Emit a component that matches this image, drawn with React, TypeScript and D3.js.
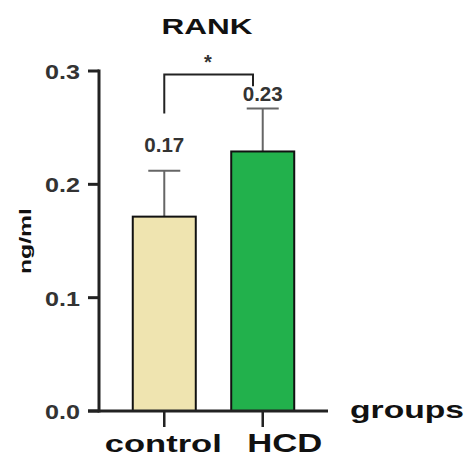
import React from "react";
import * as d3 from "d3";

const categories = ["control", "HCD"];
const means = [0.1715, 0.229];
const sds = [0.0405, 0.038];
const valueLabels = ["0.17", "0.23"];
const colors = ["#EFE4B0", "#22B14C"];
const yTicks = [0.0, 0.1, 0.2, 0.3];

export default function App() {
  const W = 467, H = 457;
  const y = d3.scaleLinear().domain([0, 0.3]).range([411, 71]);
  const x = d3.scaleBand<string>().domain(categories).range([99, 328]).paddingInner(0.36).paddingOuter(0.343);
  const bw = x.bandwidth();
  const font = "'Liberation Sans', Arial, sans-serif";
  const labelGap = [19, 7];
  return (
    <svg width={W} height={H} style={{ position: "absolute", left: 0, top: 0, background: "#fff" }}>
      <text x={207} y={34} textAnchor="middle" fontFamily={font} fontWeight="bold" fontSize={22} textLength={91} lengthAdjust="spacingAndGlyphs" fill="#111">RANK</text>
      <text transform={`translate(31,241) rotate(-90)`} textAnchor="middle" fontFamily={font} fontWeight="bold" fontSize={17} textLength={66} lengthAdjust="spacingAndGlyphs" fill="#111">ng/ml</text>
      {categories.map((c, i) => (
        <g key={c}>
          <line x1={x(c)! + bw / 2} x2={x(c)! + bw / 2} y1={y(means[i])} y2={y(means[i] + sds[i])} stroke="#666" strokeWidth={2} />
          <line x1={x(c)! + bw / 2 - 16} x2={x(c)! + bw / 2 + 16} y1={y(means[i] + sds[i])} y2={y(means[i] + sds[i])} stroke="#666" strokeWidth={2} />
          <rect x={x(c)!} y={y(means[i])} width={bw} height={y(0) - y(means[i])} fill={colors[i]} stroke="#111" strokeWidth={2} />
          <text x={x(c)! + bw / 2} y={y(means[i] + sds[i]) - labelGap[i]} textAnchor="middle" fontFamily={font} fontWeight="bold" fontSize={20} textLength={40} lengthAdjust="spacingAndGlyphs" fill="#333">{valueLabels[i]}</text>
          <line x1={x(c)! + bw / 2} x2={x(c)! + bw / 2} y1={y(0)} y2={y(0) + 16} stroke="#222" strokeWidth={2.5} />
          <text x={x(c)! + bw / 2 + (i === 0 ? -1 : 22)} y={452} textAnchor="middle" fontFamily={font} fontWeight="bold" fontSize={i === 0 ? 23 : 25} textLength={i === 0 ? 117 : 75} lengthAdjust="spacingAndGlyphs" fill="#111">{c}</text>
        </g>
      ))}
      <line x1={99} x2={99} y1={y(0.3) - 1.5} y2={y(0) + 1.5} stroke="#222" strokeWidth={3} />
      <line x1={88} x2={328} y1={y(0)} y2={y(0)} stroke="#222" strokeWidth={3} />
      {yTicks.map((t) => (
        <g key={t}>
          <line x1={88} x2={99} y1={y(t)} y2={y(t)} stroke="#222" strokeWidth={3} />
          <text x={80} y={y(t) + 8} textAnchor="end" fontFamily={font} fontWeight="bold" fontSize={21} textLength={35} lengthAdjust="spacingAndGlyphs" fill="#333">{t.toFixed(1)}</text>
        </g>
      ))}
      <text x={407} y={418} textAnchor="middle" fontFamily={font} fontWeight="bold" fontSize={24} textLength={114} lengthAdjust="spacingAndGlyphs" fill="#111">groups</text>
      <path d={`M${x("control")! + bw / 2},${y(0.2625)} V${y(0.297)} H${253} V${y(0.2865)}`} fill="none" stroke="#222" strokeWidth={2} />
      <text x={208} y={69} textAnchor="middle" fontFamily={font} fontWeight="bold" fontSize={20} fill="#333">*</text>
    </svg>
  );
}
